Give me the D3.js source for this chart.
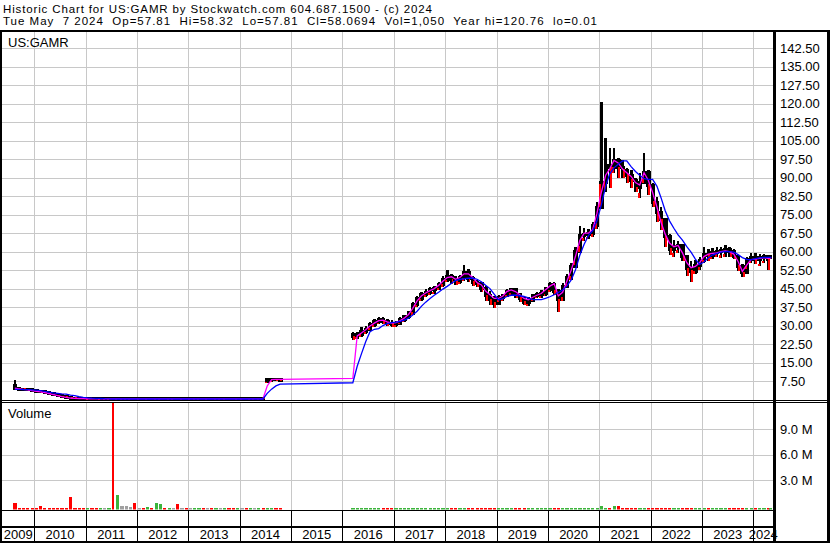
<!DOCTYPE html>
<html><head><meta charset="utf-8">
<script src="https://cdn.jsdelivr.net/npm/d3@7"></script>
<style>
html,body{margin:0;padding:0;background:#fff;}
svg{display:block;font-family:"Liberation Sans",Arial,sans-serif;}
text{white-space:pre;}
</style></head><body>
<svg id="chart" width="830" height="543"></svg>
<script>
// ---------- DATA ----------
const titleLine = "Historic Chart for US:GAMR by Stockwatch.com 604.687.1500 - (c) 2024";
const quoteLine = "Tue May  7 2024  Op=57.81  Hi=58.32  Lo=57.81  Cl=58.0694  Vol=1,050  Year hi=120.76  lo=0.01";
const symbol = "US:GAMR";
const tradingPeriods = [["2009-08", "2014-10"], ["2016-03", "2024-05"]]; // monthly bars
const lastTradeDate = "2024-05-08";
const years = [2009,2010,2011,2012,2013,2014,2015,2016,2017,2018,2019,2020,2021,2022,2023,2024];
const priceTicks = [7.5,15,22.5,30,37.5,45,52.5,60,67.5,75,82.5,90,97.5,105,112.5,120,127.5,135,142.5];
const volumeTicks = [3,6,9]; // millions

const open = [
 5.5,4.4,4.2,4.1,3.9,
 3.6,3.2,3.1,2.8,2.4,2.0,1.6,1.2,0.9,0.6,0.5,0.4,
 0.3,0.35,0.3,0.25,0.3,0.3,0.35,0.3,0.35,0.35,0.35,0.35,
 0.3,0.3,0.25,0.3,0.25,0.3,0.35,0.3,0.35,0.35,0.3,0.3,
 0.25,0.25,0.3,0.35,0.3,0.3,0.25,0.3,0.3,0.35,0.3,0.25,
 0.3,0.3,0.25,0.3,0.3,0.35,7.5,8.0,8.1,8.0,
 26.5,25.5,26.5,27.5,28.5,30.5,31.5,32.5,31.8,31,
 30.5,30.8,32.5,33.5,35,38.5,41,42.5,43.5,44.5,45,46.5,
 48.5,50,48.5,48,49.5,51.5,49,47.5,47,45,42,40.5,
 39,41.5,42,44,44.5,42.5,41,39.5,40,42,42.5,43,
 44.5,46.5,44,40.5,46,49.5,54,60,66.5,67,67.5,70.5,
 78,88,95,94,97,94,93,91,89,86,88,92,
 87,80,76,73,66,61,62,62.5,58,53,52,54.5,
 56.5,59,58.5,59.5,60,60.5,61,60,58,54,51.5,57,
 57.5,57,57.5,58,57.81];
const high = [
 7.9,4.7,4.6,4.4,4.2,
 3.9,3.6,3.4,3.1,2.6,2.3,1.9,1.4,1.1,0.8,0.7,0.6,
 0.6,0.5,0.5,0.5,0.5,0.6,0.6,0.5,0.5,0.5,0.5,0.5,
 0.5,0.7,0.6,0.5,0.5,0.5,0.5,0.8,0.5,0.5,0.5,0.5,
 0.5,0.5,0.6,0.8,0.5,0.5,0.5,0.5,0.5,0.5,0.5,0.5,
 0.5,0.5,0.5,0.5,0.5,0.6,8.8,8.6,8.4,8.3,
 27.5,27.5,29.5,29.8,31.6,32.5,33.6,33.5,32.5,32.3,
 32,33.5,34.3,36,39.5,42,43.7,45,45.8,46,47.5,50,
 52.4,51,50,50.5,54.6,53,50,48.5,47.5,46,44,42,
 42.6,43,45,45.4,44.5,43,42,41.5,43,43.7,44.4,45.5,
 47.8,47.8,45,47.2,51,55.3,62,70.4,69.5,69,72,80,
 120.76,106,102,102,98,97,94,93,90,92,99.9,93,
 88,82,78.2,73,67,64.7,64.5,63,58,56,56.6,58,
 62,61,61.5,62,62,62.5,62,61,58,55,58,59.3,
 59.3,59,59,58.5,58.32];
const low = [
 3.8,3.8,3.7,3.5,3.3,
 2.9,2.8,2.5,2.1,1.8,1.4,1.0,0.7,0.4,0.3,0.2,0.2,
 0.2,0.1,0.1,0.1,0.1,0.1,0.1,0.1,0.1,0.1,0.1,0.1,
 0.1,0.1,0.1,0.1,0.1,0.1,0.1,0.1,0.1,0.1,0.1,0.1,
 0.1,0.1,0.1,0.1,0.1,0.1,0.1,0.1,0.1,0.1,0.1,0.1,
 0.1,0.1,0.1,0.1,0.1,0.1,6.8,7.2,7.4,7.5,
 24.3,24.5,25.5,26.5,28.2,29.5,30.5,30.5,29.8,29.6,
 29.5,30.5,31.6,32.5,34.3,37.5,40,41.5,42.4,43,44.5,45.8,
 47.5,47,46.5,47,48,47.5,46,45.5,43.5,40,38.5,37,
 39.5,40,41.5,42.5,41,39.5,38.3,38,40,41,41.2,42,
 43.5,42.5,35.6,40,45.5,48.5,54.5,60,64.5,65,66,69,
 78,84,86,92,90,90,88,86,84,81.6,88,83,
 78,72,68.8,62,58.6,58,59.5,56,50,47.8,51,52.5,
 55.3,56,57,58,57.5,58,58,57,52,49.8,53,55.3,
 55,54,55.5,52.5,57.81];
const close = [
 4.4,4.2,4.1,3.9,3.6,
 3.2,3.1,2.8,2.4,2.0,1.6,1.2,0.9,0.6,0.5,0.4,0.3,
 0.35,0.3,0.25,0.3,0.3,0.35,0.3,0.35,0.35,0.35,0.35,0.3,
 0.3,0.25,0.3,0.25,0.3,0.35,0.3,0.35,0.35,0.3,0.3,0.25,
 0.25,0.3,0.35,0.3,0.3,0.25,0.3,0.3,0.35,0.3,0.25,0.3,
 0.3,0.25,0.3,0.3,0.35,0.3,8.0,8.1,8.0,7.9,
 25.5,26.5,27.5,28.5,30.5,31.5,32.5,31.8,31,30.5,
 30.8,32.5,33.5,35,38.5,41,42.5,43.5,44.5,45,46.5,48.5,
 50,48.5,48,49.5,51.5,49,47.5,47,45,42,40.5,39,
 41.5,42,44,44.5,42.5,41,39.5,40,42,42.5,43,44.5,
 46.5,44,40.5,46,49.5,54,60,66.5,67,67.5,70.5,78,
 88,95,94,97,94,93,91,89,86,88,92,87,
 80,76,73,66,61,62,62.5,58,53,52,54.5,56.5,
 59,58.5,59.5,60,60.5,61,60,58,54,51.5,57,57.5,
 57,57.5,58,57,58.07];
const maFast = [
 4.6,4.3,4.1,3.9,3.6,
 3.3,3.1,2.8,2.4,2.0,1.6,1.2,0.9,0.6,0.45,0.4,0.35,
 0.3,0.3,0.3,0.3,0.3,0.3,0.3,0.3,0.3,0.3,0.3,0.3,
 0.3,0.3,0.3,0.3,0.3,0.3,0.3,0.3,0.3,0.3,0.3,0.3,
 0.3,0.3,0.3,0.3,0.3,0.3,0.3,0.3,0.3,0.3,0.3,0.3,
 0.3,0.3,0.3,0.3,0.3,0.3,5.5,8.1,8.2,8.2,
 8.6,25.8,27,28.3,29.8,31,32,32.2,31.5,31,
 31.2,32,33,34.5,37,40,42,43.2,44.2,45,46.3,48,
 49.5,49.8,48.8,49.5,51,51,49.5,47.5,46.5,44,42.5,41,
 41,42,43.8,44.5,43.8,42.5,41,40.5,41.5,42.3,43,44.5,
 46,47,42,43.5,48,52.5,58,64.5,67.5,67.5,69,75.5,
 84,91,93.5,97,96,93.5,92,90.5,88,87,92,89,
 84,78,72,67,63.5,62,62.5,59.5,55.5,53.5,54,55.5,
 58,59,59.3,59.5,60,60.3,60,59,56,52,54.5,56.8,
 57,57.3,57.6,57.3,57.5];
const maSlow = [
 4.1,4.1,4.0,4.0,3.9,
 3.8,3.6,3.3,3.0,2.7,2.5,2.3,2.2,1.8,1.6,1.2,0.9,
 0.7,0.55,0.45,0.4,0.3,0.25,0.2,0.2,0.2,0.2,0.2,0.2,
 0.2,0.2,0.2,0.2,0.2,0.2,0.2,0.2,0.2,0.2,0.2,0.2,
 0.2,0.2,0.2,0.2,0.2,0.2,0.2,0.2,0.2,0.2,0.2,0.2,
 0.2,0.2,0.2,0.2,0.2,0.2,2.5,4.2,5.5,6.2,
 6.8,13.5,18.5,23.5,27.5,28.5,28.8,30,30.8,31.2,
 31.4,31.7,32.2,33,34.3,35.8,37.8,39.5,41,42.3,43.5,44.8,
 45.9,47.2,48.2,48.7,49,49.2,49.3,48.8,47.8,46.4,45,42.8,
 40.4,40.9,41.8,42.3,42.4,42.1,41.8,41.2,40.5,40.5,40.5,41,
 41.7,42.5,43.4,44.4,46,48.5,52.5,58.5,63,66.5,68.5,72.5,
 79,86.5,91.5,94,95.5,96.8,96.8,94.5,92.5,91,89.6,89.3,
 89.3,86.5,82,76.5,72.5,69.5,66.8,64.7,62,59.8,57,54.8,
 55.8,57.5,58.6,59.2,59.8,60,60,59.8,58.8,57.6,56.9,56.7,
 57.2,57.5,57.7,57.7,57.7];
const volumeM = [
 0.65,0.04,0.03,0.05,0.04,
 0.03,0.35,0.04,0.03,0.05,0.04,0.03,0.05,1.4,0.04,0.03,0.05,
 0.04,0.03,0.05,0.04,0.03,0.05,14,1.6,0.3,0.25,0.2,0.65,
 0.05,0.04,0.15,0.03,0.6,0.5,0.04,0.05,0.03,0.5,0.04,0.03,
 0.04,0.03,0.05,0.08,0.04,0.03,0.05,0.04,0.03,0.05,0.04,0.08,
 0.04,0.03,0.05,0.04,0.03,0.05,0.08,0.04,0.05,0.03,
 0.03,0.02,0.02,0.03,0.02,0.02,0.03,0.02,0.02,0.02,
 0.02,0.03,0.02,0.02,0.03,0.02,0.02,0.02,0.03,0.02,0.02,0.02,
 0.03,0.02,0.02,0.02,0.03,0.02,0.02,0.02,0.02,0.03,0.02,0.02,
 0.02,0.02,0.03,0.02,0.02,0.02,0.02,0.03,0.02,0.02,0.02,0.02,
 0.02,0.03,0.03,0.02,0.02,0.02,0.02,0.03,0.02,0.02,0.02,0.03,
 0.35,0.1,0.02,0.25,0.35,0.02,0.02,0.02,0.02,0.02,0.02,0.02,
 0.02,0.02,0.02,0.03,0.02,0.02,0.02,0.02,0.02,0.03,0.02,0.02,
 0.02,0.02,0.02,0.03,0.02,0.02,0.02,0.02,0.02,0.02,0.03,0.02,
 0.02,0.02,0.02,0.02,0.02];

// ---------- LAYOUT ----------
const W = 830, H = 543;
const plotL = 2, plotR = 773;
const priceTop = 32, priceBot = 400;
const volTop = 403, volBot = 509.5;

const parseM = d3.timeParse("%Y-%m");
const months = tradingPeriods.flatMap(([a, b]) =>
  d3.timeMonth.range(parseM(a), d3.timeMonth.offset(parseM(b), 1)));
const lastDate = d3.timeParse("%Y-%m-%d")(lastTradeDate);

const data = months.map((m, i) => ({
  start: m,
  end: d3.min([d3.timeMonth.offset(m, 1), lastDate]),
  mid: d3.min([d3.timeDay.offset(m, 14), lastDate]),
  open: open[i], high: high[i], low: low[i], close: close[i],
  fast: maFast[i], slow: maSlow[i], vol: volumeM[i],
  prev: i > 0 ? close[i - 1] : null
}));

const x = d3.scaleTime()
  .domain([new Date(2009, 4, 16), new Date(2024, 4, 20)])
  .range([plotL, plotR]);
const y = d3.scaleLinear().domain([0, 150]).range([399.5, 399.5 - 150 * 2.4644]);
const yv = d3.scaleLinear().domain([0, 12]).range([505.5, 505.5 - 12 * 8.5]);

const svg = d3.select("#chart");
svg.append("rect").attr("width", W).attr("height", H).attr("fill", "#fff");

const defs = svg.append("defs");
defs.append("clipPath").attr("id", "cp").append("rect")
  .attr("x", plotL).attr("y", priceTop).attr("width", plotR - plotL).attr("height", priceBot - priceTop);
defs.append("clipPath").attr("id", "cv").append("rect")
  .attr("x", plotL).attr("y", volTop).attr("width", plotR - plotL).attr("height", volBot - volTop);

// grid
const grid = svg.append("g").attr("stroke", "#c8c8c8").attr("stroke-width", 1).attr("shape-rendering", "crispEdges");
const yearStarts = years.slice(1).map(yr => new Date(yr, 0, 1));
yearStarts.forEach(d => {
  const xx = Math.round(x(d)) + 0.5;
  grid.append("line").attr("x1", xx).attr("x2", xx).attr("y1", priceTop).attr("y2", priceBot);
  grid.append("line").attr("x1", xx).attr("x2", xx).attr("y1", volTop).attr("y2", volBot);
});
priceTicks.forEach(v => {
  const yy = Math.round(y(v)) + 0.5;
  grid.append("line").attr("x1", plotL).attr("x2", plotR).attr("y1", yy).attr("y2", yy);
});
volumeTicks.forEach(v => {
  const yy = Math.round(yv(v)) + 0.5;
  grid.append("line").attr("x1", plotL).attr("x2", plotR).attr("y1", yy).attr("y2", yy);
});

// price bars
const pg = svg.append("g").attr("clip-path", "url(#cp)").attr("shape-rendering", "crispEdges");
data.forEach(d => {
  const x0 = x(d.start), x1 = x(d.end), w = Math.max(1.5, x1 - x0);
  const xc = x0 + w / 2;
  const top = Math.max(d.open, d.close), bot = Math.min(d.open, d.close);
  pg.append("rect").attr("x", xc - 1.2).attr("width", 2.4)
    .attr("y", y(d.high)).attr("height", Math.max(1, y(d.low) - y(d.high))).attr("fill", "#000");
  pg.append("rect").attr("x", x0).attr("width", w)
    .attr("y", y(top) - 1.5).attr("height", Math.max(2.5, y(bot) - y(top) + 3))
    .attr("fill", "#000");
  const lowPart = d.low + (d.high - d.low) * 0.22;
  pg.append("rect").attr("x", d.close < d.open ? x0 + w * 0.5 : x0).attr("width", Math.max(1, w * 0.45))
    .attr("y", d.close < d.open ? y(bot) - 1 : y(lowPart))
    .attr("height", d.close < d.open ? Math.max(1.5, y(d.low) - y(bot) + 1) : Math.max(1, y(d.low) - y(lowPart)))
    .attr("fill", "#ff0000");
});

// moving averages
const lineFast = d3.line().x(d => x(d.mid)).y(d => y(d.fast));
const lineSlow = d3.line().x(d => x(d.mid)).y(d => y(d.slow));
pg.append("path").datum(data).attr("d", lineFast).attr("fill", "none")
  .attr("stroke", "#ff00ff").attr("stroke-width", 1.3).attr("shape-rendering", "auto");
pg.append("path").datum(data).attr("d", lineSlow).attr("fill", "none")
  .attr("stroke", "#0000ff").attr("stroke-width", 1.3).attr("shape-rendering", "auto");

// volume
const vg = svg.append("g").attr("clip-path", "url(#cv)").attr("shape-rendering", "crispEdges");
data.forEach(d => {
  const xm = (x(d.start) + x(d.end)) / 2;
  const top = Math.min(yv(d.vol) + 3, volBot - 1.5);
  const col = d.prev === null ? "#ff0000" : d.close > d.prev ? "#3cb43c" : d.close < d.prev ? "#ff0000" : "#a0a0a0";
  vg.append("rect").attr("x", xm - 1.6).attr("width", d.vol > 5 ? 2.2 : 3.2)
    .attr("y", top).attr("height", volBot - top).attr("fill", col);
});

// frame
const fr = svg.append("g").attr("fill", "#000").attr("shape-rendering", "crispEdges");
fr.append("rect").attr("x", 0).attr("y", 30).attr("width", W).attr("height", 2);
fr.append("rect").attr("x", 0).attr("y", 30).attr("width", 2).attr("height", H - 30);
fr.append("rect").attr("x", plotR).attr("y", 30).attr("width", 3).attr("height", H - 30);
fr.append("rect").attr("x", W - 3).attr("y", 30).attr("width", 3).attr("height", H - 30);
fr.append("rect").attr("x", 0).attr("y", 400).attr("width", W).attr("height", 1);
fr.append("rect").attr("x", 0).attr("y", 402).attr("width", W).attr("height", 1);
fr.append("rect").attr("x", 0).attr("y", 509.5).attr("width", plotR + 3).attr("height", 1);
fr.append("rect").attr("x", 0).attr("y", 525.5).attr("width", plotR + 3).attr("height", 2);
fr.append("rect").attr("x", 0).attr("y", 541).attr("width", W).attr("height", 2);
yearStarts.forEach(d => {
  const xx = Math.round(x(d));
  fr.append("rect").attr("x", xx).attr("y", 510).attr("width", 1).attr("height", 16);
  fr.append("rect").attr("x", xx).attr("y", 527).attr("width", 1).attr("height", 14);
});

// texts
const hg = svg.append("g").attr("font-size", 11.5).attr("fill", "#000");
hg.append("text").attr("x", 3).attr("y", 12.5).attr("textLength", 429).attr("lengthAdjust", "spacing").text(titleLine);
hg.append("text").attr("x", 3).attr("y", 24.8).attr("textLength", 594).attr("lengthAdjust", "spacing").text(quoteLine);
const tg = svg.append("g").attr("font-size", 13).attr("fill", "#000");
tg.append("text").attr("x", 8).attr("y", 47).text(symbol);
tg.append("text").attr("x", 8).attr("y", 418).text("Volume");
priceTicks.forEach(v => {
  tg.append("text").attr("x", 780).attr("y", y(v) + 4.5).text(v.toFixed(2));
});
volumeTicks.forEach(v => {
  tg.append("text").attr("x", 780).attr("y", yv(v) + 4.5).text(v.toFixed(1) + " M");
});
const bounds = [plotL].concat(yearStarts.map(d => x(d))).concat([plotR]);
years.forEach((yr, i) => {
  const cx = (bounds[i] + bounds[i + 1]) / 2;
  tg.append("text").attr("x", cx).attr("y", 539).attr("text-anchor", "middle").text(String(yr));
});
</script>
</body></html>
